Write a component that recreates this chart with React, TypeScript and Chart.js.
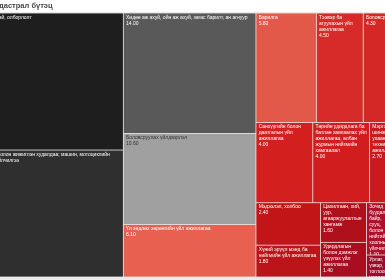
import { useEffect, useRef } from "react";
import { Chart, registerables } from "chart.js";

Chart.register(...registerables);

// ---- data ----
const TITLE = "дастрал бүтэц";

const sectorNames: string[] = [
  "Уул уурхай, олборлолт",
  "Бөөний болон жижиглэн худалдаа; машин, мотоциклийн засвар үйлчилгээ",
  "Хөдөө аж ахуй, ойн аж ахуй, загас барилт, ан агнуур",
  "Боловсруулах үйлдвэрлэл",
  "Үл хөдлөх хөрөнгийн үйл ажиллагаа",
  "Барилга",
  "Тээвэр ба агуулахын үйл ажиллагаа",
  "Боловсрол",
  "Санхүүгийн болон даатгалын үйл ажиллагаа",
  "Төрийн удирдлага ба батлан хамгаалах үйл ажиллагаа, албан журмын нийгмийн хамгаалал",
  "Мэргэжлийн, шинжлэх ухаан болон техникийн үйл ажиллагаа",
  "Мэдээлэл, холбоо",
  "Хүний эрүүл мэнд ба нийгмийн үйл ажиллагаа",
  "Цахилгаан, хий, уур, агааржуулалтын хангамж",
  "Удирдлагын болон дэмжлэг үзүүлэх үйл ажиллагаа",
  "Зочид буудал, байр, сууц, болон нийтийн хоолны үйлчилгээ",
  "Бусад үйлчилгээний үйл ажиллагаа",
  "Урлаг, үзвэр, тоглоом наадам",
  "Усан хангамж; бохир ус, хог хаягдлын менежмент",
];

const sectorValues: number[] = [
  17.7, 16.4, 14.0, 10.6, 6.1, 5.8, 4.5, 4.3, 4.0, 4.0, 2.7, 2.4, 1.8, 1.6, 1.4,
  1.1, 0.8, 0.5, 0.3,
];

// ---- styles ----
const CELL_COLORS: string[] = [
  "#1e1e1e",
  "#2f2f2f",
  "#595959",
  "#a0a0a0",
  "#e8604f",
  "#e2594a",
  "#d62b28",
  "#d42826",
  "#d41f1f",
  "#d21d1e",
  "#c81b1d",
  "#c21518",
  "#bb1419",
  "#b0101c",
  "#a80e1f",
  "#ae1029",
  "#a20d27",
  "#9e0b2a",
  "#940a2a",
];
const DARK_TEXT_CELLS = [3];
const FONT = '5px "Liberation Sans", Arial, sans-serif';
const PAD_X = 2.7;
const WRAP_SLACK = 3.0;
const FIRST_BASELINE = 5.6;
const LINE_H = 6;
const GAP_INSET = 0.4;
const SQUARE_RATIO = 0.5 * (1 + Math.sqrt(5));

type Item = { idx: number; area: number };
type Cell = { idx: number; x: number; y: number; w: number; h: number };

function squarify(vals: number[], W: number, H: number): Cell[] {
  const total = vals.reduce((a, b) => a + b, 0);
  const items: Item[] = vals
    .map((v, idx) => ({ idx, area: (v / total) * W * H }))
    .sort((a, b) => b.area - a.area);
  const rect = { x: 0, y: 0, width: W, height: H };
  const out: Cell[] = [];

  const worst = (r: Item[], a: number, len: number) => {
    let mx = 0;
    let mn = Infinity;
    for (const it of r) {
      if (it.area > mx) mx = it.area;
      if (it.area < mn) mn = it.area;
    }
    const sq = a * a;
    const f = len * len * SQUARE_RATIO;
    return sq ? Math.max((f * mx) / sq, sq / (f * mn)) : Infinity;
  };

  const position = (r: Item[], a: number, len: number, flush: boolean) => {
    const horiz = len === rect.width;
    let other = len ? a / len : 0;
    const otherMax = horiz ? rect.height : rect.width;
    if (flush || other > otherMax) other = otherMax;
    let last = horiz ? rect.x : rect.y;
    const end = horiz ? rect.x + rect.width : rect.y + rect.height;
    r.forEach((it, i) => {
      const step = other ? it.area / other : 0;
      const remain = end - last;
      const mod = i === r.length - 1 || remain < step ? remain : step;
      if (horiz) out.push({ idx: it.idx, x: last, y: rect.y, w: mod, h: other });
      else out.push({ idx: it.idx, x: rect.x, y: last, w: other, h: mod });
      last += mod;
    });
    if (horiz) {
      rect.y += other;
      rect.height -= other;
    } else {
      rect.x += other;
      rect.width -= other;
    }
  };

  let row: Item[] = [];
  let rowArea = 0;
  let best = Infinity;
  let fixed = Math.min(W, H);
  for (let i = 0; i < items.length; ) {
    row.push(items[i]);
    rowArea += items[i].area;
    const s = worst(row, rowArea, fixed);
    if (s <= best) {
      i++;
      best = s;
    } else {
      rowArea -= (row.pop() as Item).area;
      position(row, rowArea, fixed, false);
      fixed = Math.min(rect.width, rect.height);
      row = [];
      rowArea = 0;
      best = Infinity;
    }
  }
  if (row.length) position(row, rowArea, fixed, true);
  return out;
}

function wrapText(ctx: CanvasRenderingContext2D, text: string, maxW: number): string[] {
  const words = text.split(" ");
  const lines: string[] = [];
  let cur = "";
  for (const w of words) {
    const test = cur ? cur + " " + w : w;
    if (cur && ctx.measureText(test).width > maxW) {
      lines.push(cur);
      cur = w;
    } else {
      cur = test;
    }
  }
  if (cur) lines.push(cur);
  return lines;
}

const treemapPlugin = {
  id: "treemapCells",
  beforeDraw(chart: any) {
    const { ctx, chartArea: a } = chart;
    ctx.save();
    ctx.fillStyle = "#ebebeb";
    ctx.fillRect(0, a.top - 1, chart.width, chart.height - a.top + 1);
    ctx.restore();
  },
  afterDatasetsDraw(chart: any) {
    const { ctx, chartArea: a, scales } = chart;
    const xs = scales.x;
    const ys = scales.y;
    const W = a.right - a.left;
    const H = a.bottom - a.top;
    const cells = squarify(sectorValues, W, H);
    ctx.save();
    for (const c of cells) {
      const x0 = xs.getPixelForValue((c.x / W) * 100);
      const x1 = xs.getPixelForValue(((c.x + c.w) / W) * 100);
      const y0 = ys.getPixelForValue((c.y / H) * 100);
      const y1 = ys.getPixelForValue(((c.y + c.h) / H) * 100);
      ctx.fillStyle = CELL_COLORS[c.idx];
      ctx.fillRect(x0 + GAP_INSET, y0 + GAP_INSET, x1 - x0 - 2 * GAP_INSET, y1 - y0 - 2 * GAP_INSET);

      ctx.save();
      ctx.beginPath();
      ctx.rect(x0, y0, x1 - x0, y1 - y0);
      ctx.clip();
      ctx.font = FONT;
      ctx.textBaseline = "alphabetic";
      ctx.textAlign = "left";
      ctx.fillStyle = DARK_TEXT_CELLS.includes(c.idx) ? "#333333" : "#ffffff";
      const lines = wrapText(ctx, sectorNames[c.idx], x1 - x0 - WRAP_SLACK);
      lines.push(sectorValues[c.idx].toFixed(2));
      lines.forEach((ln, k) => {
        ctx.fillText(ln, x0 + PAD_X, y0 + FIRST_BASELINE + k * LINE_H);
      });
      ctx.restore();
    }
    ctx.restore();
  },
};

export default function App() {
  const canvasRef = useRef<HTMLCanvasElement | null>(null);

  useEffect(() => {
    const canvas = canvasRef.current;
    if (!canvas) return;
    const chart = new Chart(canvas, {
      type: "scatter",
      data: { datasets: [{ data: [], pointRadius: 0 }] },
      options: {
        responsive: false,
        animation: false,
        devicePixelRatio: 1,
        layout: { padding: { top: 13, bottom: 3, left: 0, right: 0 } },
        plugins: {
          legend: { display: false },
          tooltip: { enabled: false },
          title: { display: false },
        },
        scales: {
          x: { type: "linear", display: false, min: 0, max: 100 },
          y: { type: "linear", display: false, min: 0, max: 100, reverse: true },
        },
      },
      plugins: [treemapPlugin],
    });
    return () => chart.destroy();
  }, []);

  return (
    <div
      style={{
        position: "fixed",
        left: 0,
        top: 0,
        width: 385,
        height: 280,
        overflow: "hidden",
        background: "#ffffff",
      }}
    >
      <canvas
        ref={canvasRef}
        width={432}
        height={280}
        style={{ position: "absolute", left: -24, top: 0, width: 432, height: 280 }}
      />
      <div
        style={{
          position: "absolute",
          left: -1,
          top: 1,
          fontFamily: '"Liberation Sans", Arial, sans-serif',
          fontSize: "7.5px",
          lineHeight: "10px",
          fontWeight: "bold",
          color: "#464646",
          whiteSpace: "nowrap",
        }}
      >
        {TITLE}
      </div>
    </div>
  );
}
